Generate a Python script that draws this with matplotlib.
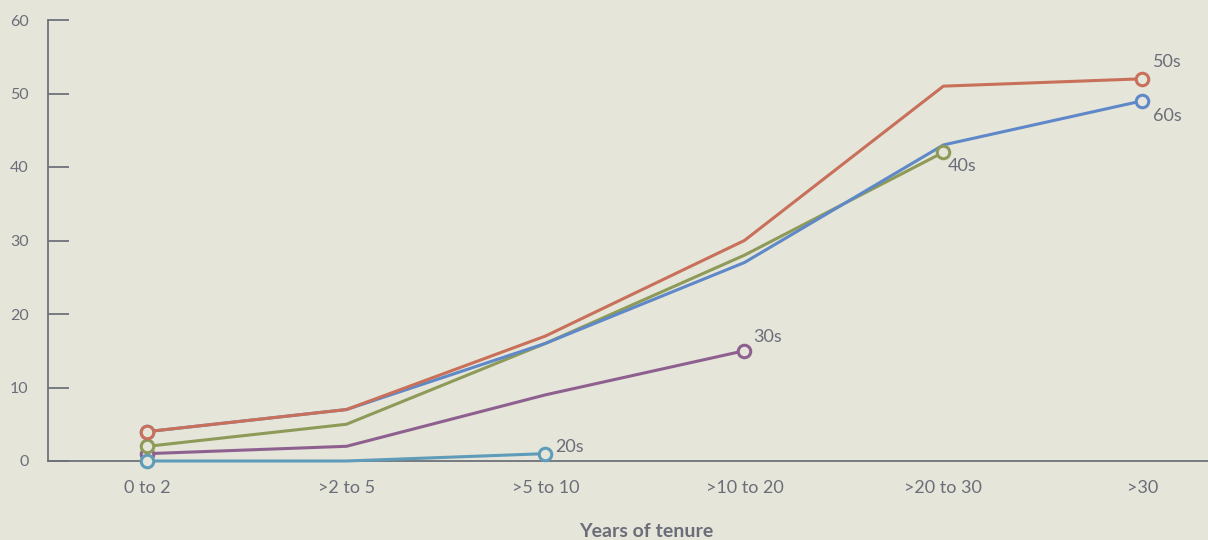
import matplotlib.pyplot as plt

categories = ["0 to 2", ">2 to 5", ">5 to 10", ">10 to 20", ">20 to 30", ">30"]
s50 = [4, 7, 17, 30, 51, 52]
s60 = [4, 7, 16, 27, 43, 49]
s40 = [2, 5, 16, 28, 42]
s30 = [1, 2, 9, 15]
s20 = [0, 0, 1]

bg = "#E5E5DA"
txt = "#6B6E78"

series = [
    ("30s", s30, "#8E6090", (6, 10)),
    ("20s", s20, "#5E9CBA", (7, 5)),
    ("40s", s40, "#8E9A58", (3, -10)),
    ("60s", s60, "#5F88C8", (8, -11)),
    ("50s", s50, "#C8705A", (8, 12)),
]

plt.rcParams["font.family"] = ["Lato", "DejaVu Sans"]
fig = plt.figure(figsize=(12.08, 5.40), dpi=100, facecolor=bg)
ax = fig.add_axes([48 / 1208, 79 / 540, 1 - 48 / 1208, 441 / 540])
ax.set_facecolor(bg)

for name, vals, col, off in series:
    xs = list(range(len(vals)))
    ax.plot(xs, vals, color=col, lw=2.2, zorder=2, clip_on=False)
    ax.plot([xs[0], xs[-1]], [vals[0], vals[-1]], "o", ms=9, mfc=bg, mec=col, mew=2.2,
            zorder=3, clip_on=False)
    ax.annotate(name, (xs[-1], vals[-1]), xytext=off, textcoords="offset points",
                fontsize=13, color=txt, ha="left", va="center")

ax.set_xlim(-0.5, 5.33)
ax.set_ylim(0, 60)
ax.set_yticks(range(0, 61, 10))
ax.set_xticks(range(len(categories)))
ax.set_xticklabels(categories)
for s in ["top", "right"]:
    ax.spines[s].set_visible(False)
for s in ["left", "bottom"]:
    ax.spines[s].set_color("#6E717A")
    ax.spines[s].set_linewidth(1.3)
    ax.spines[s].set_zorder(1)
ax.tick_params(axis="y", direction="in", length=15, width=1.3, color="#6E717A",
               labelsize=11.5, labelcolor=txt, pad=14)
ax.tick_params(axis="x", length=0, labelsize=13, labelcolor=txt, pad=14)
ax.set_xlabel("Years of tenure", fontsize=14, fontweight="bold", color=txt)
ax.xaxis.set_label_coords((646 - 48) / 1160, -0.14)

fig.savefig("out.png", dpi=100, facecolor=bg)
